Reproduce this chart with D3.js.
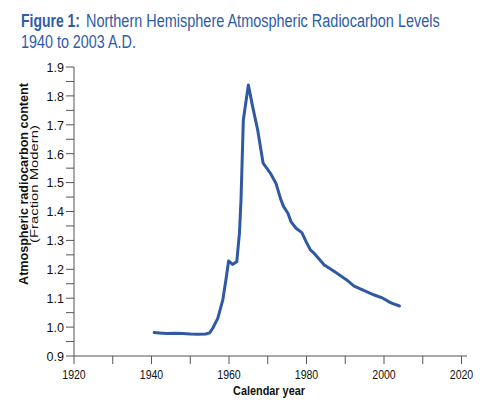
<!DOCTYPE html>
<html><head><meta charset="utf-8">
<script src="https://cdn.jsdelivr.net/npm/d3@7"></script>
<style>
body{margin:0;background:#fff;}
text{font-family:"Liberation Sans",Arial,sans-serif;}
</style></head>
<body>
<svg id="c" width="504" height="404"></svg>
<script>
const years = [1940.7,1942,1944,1946,1948,1950,1952,1954,1955,1955.8,1957.1,1958.4,1959.2,1959.9,1960.9,1962,1962.7,1963.1,1963.7,1965.0,1966.1,1967.4,1968.8,1970.8,1972.1,1973.4,1974.1,1975.2,1976,1977.3,1978.8,1979.9,1981,1982,1984.6,1987.2,1990.2,1992.3,1994.9,1997.5,1999.7,2001.8,2004];
const values = [0.981,0.980,0.978,0.979,0.978,0.976,0.975,0.976,0.980,0.996,1.030,1.094,1.163,1.229,1.217,1.226,1.325,1.44,1.717,1.838,1.763,1.682,1.567,1.530,1.498,1.44,1.417,1.394,1.365,1.342,1.327,1.296,1.267,1.255,1.215,1.192,1.165,1.142,1.126,1.111,1.100,1.084,1.073];
const xTicks = [1920,1940,1960,1980,2000,2020];
const xMinorTicks = [1930,1950,1970,1990,2010];
const yTicks = [0.9,1.0,1.1,1.2,1.3,1.4,1.5,1.6,1.7,1.8,1.9];
const yMinorTicks = [0.95,1.05,1.15,1.25,1.35,1.45,1.55,1.65,1.75,1.85];

const svg = d3.select("#c");
const x = d3.scaleLinear().domain([1920,2020]).range([74,461.5]);
const y = d3.scaleLinear().domain([0.9,1.9]).range([356,67]);
const blue = "#2f5aa2";
const axisCol = "#555";
const titleCol = "#2d5ca8";

// condensed text helper: scales glyphs horizontally to a target width
function ctext(parent, str, px, py, size, width, opts) {
  opts = opts || {};
  const t = parent.append("text").attr("font-size", size)
    .attr("font-weight", opts.bold ? "bold" : "normal")
    .attr("fill", opts.fill || "#111")
    .attr("text-anchor", opts.anchor || "start")
    .text(str);
  const w = t.node().getComputedTextLength();
  const k = w > 0 ? width / w : 1;
  const rot = opts.rotate ? " rotate(-90)" : "";
  t.attr("transform", `translate(${px},${py})${rot} scale(${k},1)`);
  return t;
}

// title
ctext(svg, "Figure 1:", 21, 27, 19, 59, {bold:true, fill:titleCol});
ctext(svg, "Northern Hemisphere Atmospheric Radiocarbon Levels", 86, 27, 19, 354, {fill:titleCol});
ctext(svg, "1940 to 2003 A.D.", 21, 48, 19, 115, {fill:titleCol});

// axes lines
svg.append("line").attr("x1",x(1920)).attr("x2",467).attr("y1",356).attr("y2",356).attr("stroke",axisCol).attr("stroke-width",1);
svg.append("line").attr("x1",x(1920)).attr("x2",x(1920)).attr("y1",y(1.9)).attr("y2",356).attr("stroke",axisCol).attr("stroke-width",1);

// x ticks
const xg = svg.append("g");
xg.selectAll("line").data(xTicks.concat(xMinorTicks)).join("line")
  .attr("x1",d=>x(d)).attr("x2",d=>x(d)).attr("y1",356).attr("y2",364).attr("stroke",axisCol);
xTicks.forEach(d => ctext(xg, String(d), x(d), 378.5, 13.5, 23.5, {anchor:"middle"}));

// y ticks
const yg = svg.append("g");
yg.selectAll("line").data(yTicks.concat(yMinorTicks)).join("line")
  .attr("x1",66).attr("x2",x(1920)).attr("y1",d=>y(d)).attr("y2",d=>y(d)).attr("stroke",axisCol);
yTicks.forEach(d => ctext(yg, d.toFixed(1), 64, y(d)+4.8, 13.5, 17.5, {anchor:"end"}));

// axis titles
ctext(svg, "Calendar year", 269, 395, 13, 72, {anchor:"middle", bold:true});
ctext(svg, "Atmospheric radiocarbon content", 28, 184, 13, 202, {anchor:"middle", bold:true, rotate:true});
ctext(svg, "(Fraction Modern)", 37.5, 184, 11.5, 118, {anchor:"middle", rotate:true});

// line
const pts = years.map((yr,i)=>[yr,values[i]]);
svg.append("path").datum(pts)
  .attr("d", d3.line().x(d=>x(d[0])).y(d=>y(d[1])).curve(d3.curveLinear))
  .attr("fill","none").attr("stroke",blue).attr("stroke-width",3).attr("stroke-linejoin","round").attr("stroke-linecap","round");
</script>
</body></html>
